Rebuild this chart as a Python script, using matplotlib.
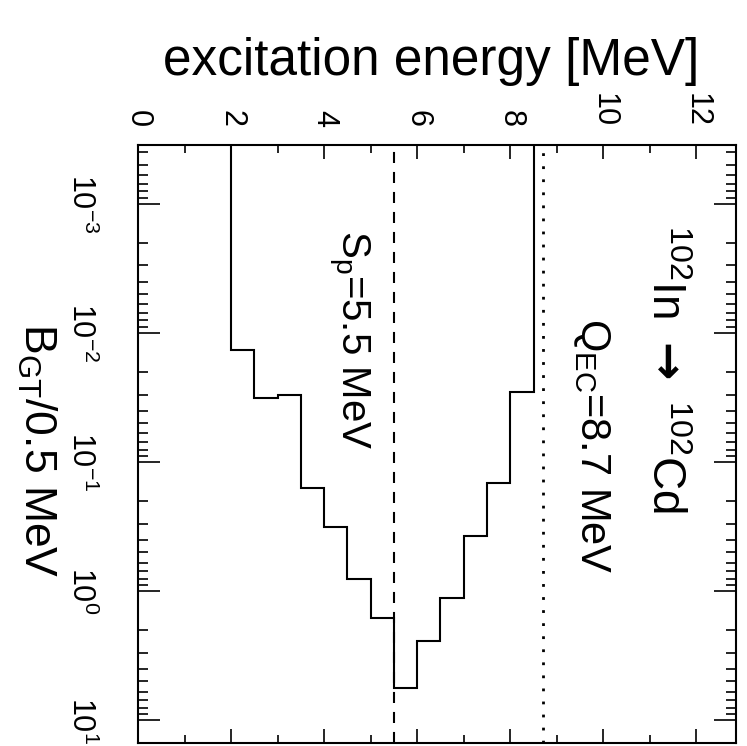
import numpy as np
import matplotlib
matplotlib.use('Agg')
from matplotlib import pyplot as plt
from matplotlib import font_manager
from matplotlib.ticker import LogLocator, MultipleLocator, NullFormatter

# GT strength per 0.5 MeV bin, 102In -> 102Cd
edges = [2.0, 2.5, 3.0, 3.5, 4.0, 4.5, 5.0, 5.5, 6.0, 6.5, 7.0, 7.5, 8.0, 8.5]
bgt = [0.0136, 0.032, 0.030, 0.160, 0.318, 0.81, 1.60, 5.6, 2.44, 1.12, 0.372, 0.145, 0.0288]
s_p = 5.5
q_ec = 8.7

names = {f.name for f in font_manager.fontManager.ttflist}
fam = 'Liberation Sans Narrow' if 'Liberation Sans Narrow' in names else 'Liberation Sans'
plt.rcParams['font.family'] = [fam, 'DejaVu Sans']
plt.rcParams['mathtext.fontset'] = 'custom'
plt.rcParams['mathtext.rm'] = fam
plt.rcParams['mathtext.default'] = 'regular'

fig = plt.figure(figsize=(7.47, 7.46), dpi=100)
ax = fig.add_axes([138/747, 3/746, 598/747, 598/746])

# figure is drawn turned by 90 degrees: energy runs left->right, B_GT top->bottom
ax.stairs(bgt, edges, baseline=1e-5, color='black', lw=1.5)
ax.axvline(s_p, color='black', lw=1.5, dashes=(5.3, 4.3))
ax.axvline(q_ec, color='black', lw=2, dashes=(1, 3.7))

ax.set_xlim(0, 12.85)
ax.set_yscale('log')
ax.set_ylim(15, 3.5e-4)

ax.xaxis.set_major_locator(MultipleLocator(2))
ax.xaxis.set_minor_locator(MultipleLocator(1))
ax.yaxis.set_major_locator(LogLocator(base=10, numticks=20))
ax.yaxis.set_minor_locator(LogLocator(base=10, subs=np.arange(2, 10), numticks=20))
ax.yaxis.set_minor_formatter(NullFormatter())

ax.xaxis.tick_top()
ax.tick_params(axis='both', which='both', direction='in', top=True, bottom=True,
               left=True, right=True, width=1.2)
ax.tick_params(axis='x', which='major', length=10, labelsize=22, pad=13,
               labelrotation=-90, labeltop=True, labelbottom=False)
ax.tick_params(axis='x', which='minor', length=6)
ax.tick_params(axis='y', which='major', length=16, labelsize=22, pad=30,
               labelrotation=-90)
ax.tick_params(axis='y', which='minor', length=7)
for lab in ax.get_yticklabels():
    lab.set_va('center')
for sp in ax.spines.values():
    sp.set_linewidth(1.5)

ax.text(11.3, 0.019, '$^{102}$In $\\mathbf{\\rightarrow}$ $^{102}$Cd', rotation=-90,
        ha='center', va='center', fontsize=33)
ax.text(9.75, 0.075, 'Q$_{EC}$=8.7 MeV', rotation=-90,
        ha='center', va='center', fontsize=30)
ax.text(4.55, 0.0113, 'S$_{p}$=5.5 MeV', rotation=-90,
        ha='center', va='center', fontsize=29)

fig.text(431/747, 1 - 62/746, 'excitation energy [MeV]', ha='center', va='center',
         fontsize=37)
fig.text(37/747, 1 - 450/746, 'B$_{GT}$/0.5 MeV', rotation=-90, ha='center',
         va='center', fontsize=32)

fig.savefig('out.png', dpi=100)
